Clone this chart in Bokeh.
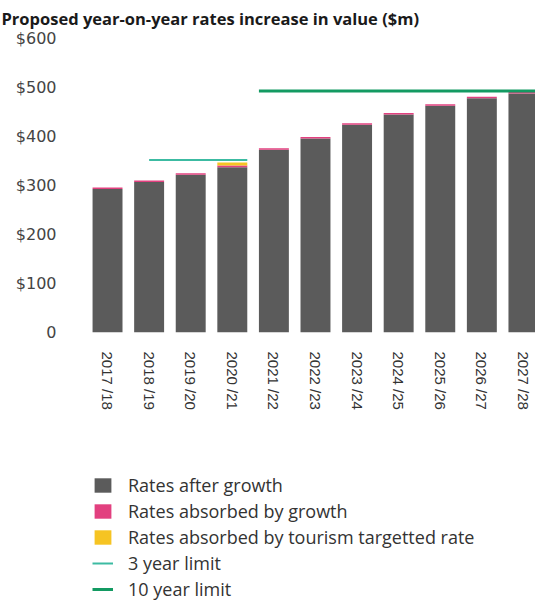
import math
from bokeh.plotting import figure
from bokeh.layouts import column
from bokeh.models import ColumnDataSource, FixedTicker
from bokeh.embed import file_html
from bokeh.resources import INLINE

# ---- data ----
years = ["2017 /18", "2018 /19", "2019 /20", "2020 /21", "2021 /22", "2022 /23",
         "2023 /24", "2024 /25", "2025 /26", "2026 /27", "2027 /28"]
rates_after_growth = [293, 307, 322, 337, 373, 396, 424, 445, 463, 478, 488]
rates_absorbed_growth = [3, 3, 3, 4, 3, 3, 3, 3, 3, 3, 3]
rates_absorbed_tourism = [0, 0, 0, 6, 0, 0, 0, 0, 0, 0, 0]
three_year_limit = 352
three_year_from, three_year_to = "2018 /19", "2020 /21"
ten_year_limit = 493
ten_year_from, ten_year_to = "2021 /22", "2027 /28"
y_ticks = [0, 100, 200, 300, 400, 500, 600]
y_tick_labels = ["0", "$100", "$200", "$300", "$400", "$500", "$600"]
title_text = "Proposed year-on-year rates increase in value ($m)"
series_names = ["Rates after growth", "Rates absorbed by growth",
                "Rates absorbed by tourism targetted rate"]
series_colors = ["#5b5b5b", "#e2407f", "#f6c423"]
limit_names = ["3 year limit", "10 year limit"]
limit_colors = ["#3cbba2", "#139a62"]
limit_widths = [2, 3]

BAR_W = 0.72
xs = list(range(len(years)))
src = ColumnDataSource(dict(x=xs, after=rates_after_growth,
                            growth=rates_absorbed_growth,
                            tourism=rates_absorbed_tourism))

p = figure(width=535, height=412, output_backend="svg", toolbar_location=None,
           title=title_text,
           x_range=(-0.65, 10.29), y_range=(0, 600),
           min_border_left=80, min_border_right=0, min_border_top=0,
           min_border_bottom=80)
p.outline_line_color = None
p.title.text_font = "Open Sans"
p.title.text_font_style = "bold"
p.title.text_font_size = "16.5px"
p.title.text_color = "#1a1a1a"
p.title.offset = -79
p.title.vertical_align = "top"
p.title.standoff = 13

p.vbar_stack(["after", "growth", "tourism"], x="x", width=BAR_W, source=src,
             fill_color=series_colors, line_color=None)

i0, i1 = years.index(three_year_from), years.index(three_year_to)
p.line([i0, i1 + BAR_W / 2], [three_year_limit, three_year_limit],
       line_color=limit_colors[0], line_width=limit_widths[0])
j0, j1 = years.index(ten_year_from), years.index(ten_year_to)
p.line([j0 - BAR_W / 2, j1 + 0.5], [ten_year_limit, ten_year_limit],
       line_color=limit_colors[1], line_width=limit_widths[1])

# axes
p.xaxis.ticker = FixedTicker(ticks=xs)
p.xaxis.major_label_overrides = {i: y for i, y in enumerate(years)}
p.xaxis.major_label_orientation = -math.pi / 2
p.xaxis.axis_line_color = None
p.xaxis.major_tick_line_color = None
p.xaxis.minor_tick_line_color = None
p.xaxis.major_label_standoff = 13
p.xaxis.major_label_text_font = "Liberation Sans"
p.xaxis.major_label_text_font_size = "15px"
p.xaxis.major_label_text_color = "#333333"

p.yaxis.ticker = FixedTicker(ticks=y_ticks)
p.yaxis.major_label_overrides = {t: l for t, l in zip(y_ticks, y_tick_labels)}
p.yaxis.axis_line_color = None
p.yaxis.major_tick_line_color = None
p.yaxis.minor_tick_line_color = None
p.yaxis.major_label_standoff = 18
p.yaxis.major_label_text_font = "DejaVu Sans"
p.yaxis.major_label_text_font_size = "16px"
p.yaxis.major_label_text_color = "#444444"

p.xgrid.grid_line_color = None
p.ygrid.ticker = FixedTicker(ticks=[600])
p.ygrid.grid_line_color = "#dcdcdc"

# ---- legend panel (swatch renderers sit outside the visible range) ----
lp = figure(width=535, height=191, output_backend="svg", toolbar_location=None,
            x_range=(0, 1), y_range=(0, 1), x_axis_type=None, y_axis_type=None,
            min_border=0)
lp.outline_line_color = None
lp.grid.grid_line_color = None
for name, col in zip(series_names, series_colors):
    lp.vbar(x=[5], top=[5], bottom=[4], width=0.5, fill_color=col,
            line_color=None, legend_label=name)
for name, col, w in zip(limit_names, limit_colors, limit_widths):
    lp.line(x=[5, 6], y=[5, 5], line_color=col, line_width=w, legend_label=name)

lg = lp.legend[0]
lg.location = (12, 2)
lg.orientation = "vertical"
lg.border_line_color = None
lg.background_fill_alpha = 0
lg.padding = 0
lg.margin = 0
lg.spacing = 2
lg.glyph_width = 21
lg.glyph_height = 18
lg.label_height = 18
lg.label_standoff = 15
lg.label_text_font = "Open Sans"
lg.label_text_font_size = "18px"
lg.label_text_color = "#333333"

layout = column(p, lp, spacing=0)
open("out.html", "w").write(file_html(layout, INLINE))
